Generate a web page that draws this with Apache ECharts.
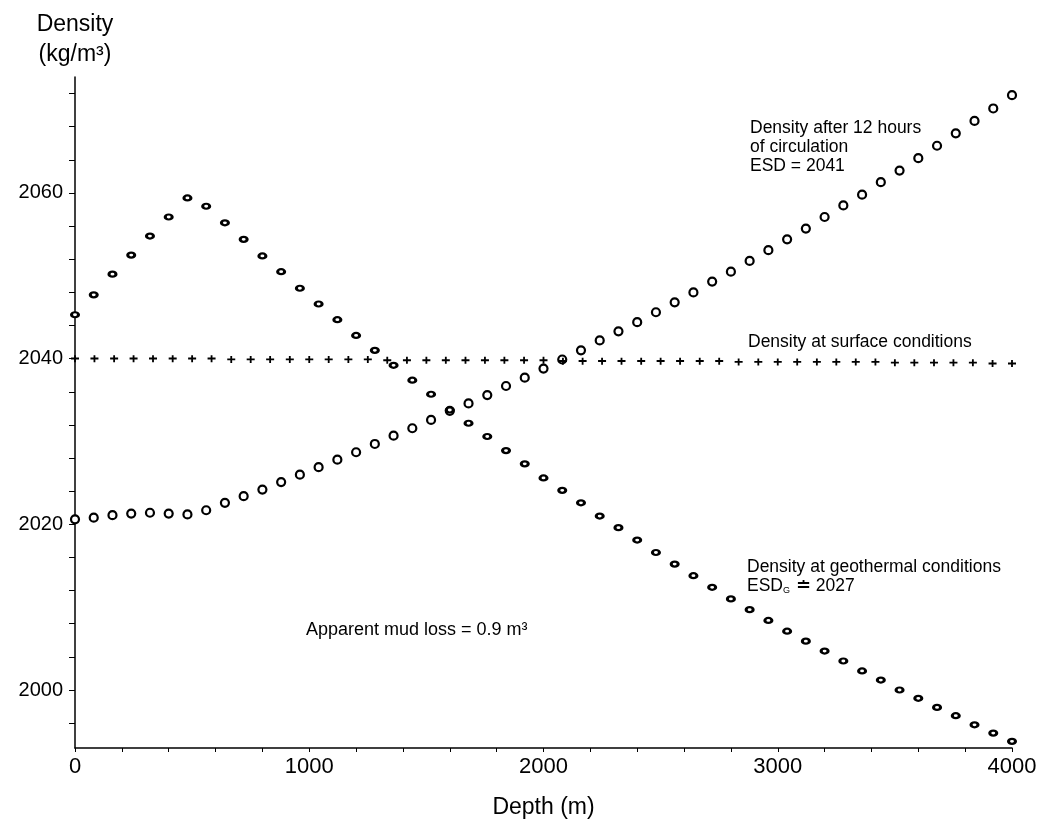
<!DOCTYPE html>
<html>
<head>
<meta charset="utf-8">
<script src="https://cdn.jsdelivr.net/npm/echarts@6/dist/echarts.min.js"></script>
<style>
html,body{margin:0;padding:0;background:#fff;}
#chart{width:1038px;height:824px;}
</style>
</head>
<body>
<div id="chart"></div>
<script>
// Depth (m) for the two circle series (80 m spacing)
const depthCirc = [0,80,160,240,320,400,480,560,640,720,800,880,960,1040,1120,1200,1280,1360,1440,1520,1600,1680,1760,1840,1920,2000,2080,2160,2240,2320,2400,2480,2560,2640,2720,2800,2880,2960,3040,3120,3200,3280,3360,3440,3520,3600,3680,3760,3840,3920,4000];
// Density after 12 hours of circulation (kg/m3)
const densityCirculation = [2020.6,2020.8,2021.1,2021.3,2021.4,2021.3,2021.2,2021.7,2022.6,2023.4,2024.2,2025.1,2026.0,2026.9,2027.8,2028.7,2029.7,2030.7,2031.6,2032.6,2033.7,2034.6,2035.6,2036.7,2037.7,2038.8,2039.9,2041.0,2042.2,2043.3,2044.4,2045.6,2046.8,2048.0,2049.3,2050.5,2051.8,2053.1,2054.4,2055.7,2057.1,2058.5,2059.8,2061.3,2062.7,2064.2,2065.7,2067.2,2068.7,2070.2,2071.8];
// Density at geothermal conditions (kg/m3)
const densityGeothermal = [2045.3,2047.7,2050.2,2052.5,2054.8,2057.1,2059.4,2058.4,2056.4,2054.4,2052.4,2050.5,2048.5,2046.6,2044.7,2042.8,2041.0,2039.2,2037.4,2035.7,2033.8,2032.2,2030.6,2028.9,2027.3,2025.6,2024.1,2022.6,2021.0,2019.6,2018.1,2016.6,2015.2,2013.8,2012.4,2011.0,2009.7,2008.4,2007.1,2005.9,2004.7,2003.5,2002.3,2001.2,2000.0,1999.0,1997.9,1996.9,1995.8,1994.8,1993.8];
// Depth (m) for the surface-condition series
const depthSurface = [0,83,167,250,333,417,500,583,667,750,833,917,1000,1083,1167,1250,1333,1417,1500,1583,1667,1750,1833,1917,2000,2083,2167,2250,2333,2417,2500,2583,2667,2750,2833,2917,3000,3083,3167,3250,3333,3417,3500,3583,3667,3750,3833,3917,4000];
// Density at surface conditions (kg/m3)
const densitySurface = [2040.0,2040.0,2040.0,2040.0,2040.0,2040.0,2040.0,2040.0,2039.9,2039.9,2039.9,2039.9,2039.9,2039.9,2039.9,2039.9,2039.8,2039.8,2039.8,2039.8,2039.8,2039.8,2039.8,2039.8,2039.8,2039.7,2039.7,2039.7,2039.7,2039.7,2039.7,2039.7,2039.7,2039.7,2039.6,2039.6,2039.6,2039.6,2039.6,2039.6,2039.6,2039.6,2039.5,2039.5,2039.5,2039.5,2039.5,2039.4,2039.4];
// Tick values
const xTicks = [0,200,400,600,800,1000,1200,1400,1600,1800,2000,2200,2400,2600,2800,3000,3200,3400,3600,3800,4000];
const xLabels = [0,1000,2000,3000,4000];
const yTicks = [1996,2000,2004,2008,2012,2016,2020,2024,2028,2032,2036,2040,2044,2048,2052,2056,2060,2064,2068,2072];
const yLabels = [2000,2020,2040,2060];

const zip = (xs, ys) => xs.map((x, i) => [x, ys[i]]);
const FONT = 'Liberation Sans, Arial, sans-serif';
const INK = '#000';

const chart = echarts.init(document.getElementById('chart'), null, {renderer: 'canvas'});
chart.setOption({
  animation: false,
  backgroundColor: '#fff',
  grid: {left: 75, right: 26, top: 77, bottom: 76, outerBoundsMode: 'none', containLabel: false},
  xAxis: {
    type: 'value', min: 0, max: 4000,
    name: 'Depth (m)', nameLocation: 'middle', nameGap: 48,
    nameTextStyle: {fontFamily: FONT, fontSize: 23, color: INK},
    axisLine: {show: true, onZero: false, lineStyle: {color: INK, width: 1.5}},
    axisTick: {show: true, inside: false, length: 4, customValues: xTicks, lineStyle: {color: INK, width: 1}},
    axisLabel: {customValues: xLabels, margin: 8, fontFamily: FONT, fontSize: 22, color: INK,
      formatter: v => String(v)},
    splitLine: {show: false}
  },
  yAxis: {
    type: 'value', min: 1993, max: 2074,
    name: 'Density\n(kg/m³)', nameLocation: 'end', nameGap: 7,
    nameTextStyle: {fontFamily: FONT, fontSize: 23, color: INK, lineHeight: 30, align: 'center', verticalAlign: 'bottom'},
    axisLine: {show: true, onZero: false, lineStyle: {color: INK, width: 1.5}},
    axisTick: {show: true, inside: false, length: 6, customValues: yTicks, lineStyle: {color: INK, width: 1}},
    axisLabel: {customValues: yLabels, margin: 12, fontFamily: FONT, fontSize: 20, color: INK,
      formatter: v => String(v)},
    splitLine: {show: false}
  },
  series: [
    {
      name: 'Density after 12 hours of circulation', type: 'scatter',
      data: zip(depthCirc, densityCirculation),
      symbol: 'circle', symbolSize: 8,
      itemStyle: {color: '#fff', borderColor: INK, borderWidth: 2.2, opacity: 1}
    },
    {
      name: 'Density at geothermal conditions', type: 'scatter',
      data: zip(depthCirc, densityGeothermal),
      symbol: 'circle', symbolSize: [7, 5],
      itemStyle: {color: '#fff', borderColor: INK, borderWidth: 2.6, opacity: 1}
    },
    {
      name: 'Density at surface conditions', type: 'scatter',
      data: zip(depthSurface, densitySurface),
      symbol: 'path://M0,2.1H2.9V0H4.6V2.1H7.5V3.7H4.6V6H2.9V3.7H0Z', symbolSize: [8, 7],
      itemStyle: {color: INK, opacity: 1}
    }
  ],
  graphic: [
    {type: 'text', x: 750, y: 119, silent: true,
     style: {text: 'Density after 12 hours\nof circulation\nESD = 2041', fontFamily: FONT, fontSize: 17.5, lineHeight: 19, fill: INK, verticalAlign: 'top'}},
    {type: 'text', x: 748, y: 333, silent: true,
     style: {text: 'Density at surface conditions', fontFamily: FONT, fontSize: 17.5, lineHeight: 19, fill: INK, verticalAlign: 'top'}},
    {type: 'text', x: 747, y: 558, silent: true,
     style: {text: 'Density at geothermal conditions\nESD{sub|G} ≐ 2027', fontFamily: FONT, fontSize: 17.5, lineHeight: 19, fill: INK, verticalAlign: 'top',
       rich: {sub: {fontFamily: FONT, fontSize: 9, fill: INK, padding: [9, 1, 0, 0]}}}},
    {type: 'text', x: 306, y: 621, silent: true,
     style: {text: 'Apparent mud loss = 0.9 m³', fontFamily: FONT, fontSize: 18, lineHeight: 19, fill: INK, verticalAlign: 'top'}}
  ]
});
</script>
</body>
</html>
